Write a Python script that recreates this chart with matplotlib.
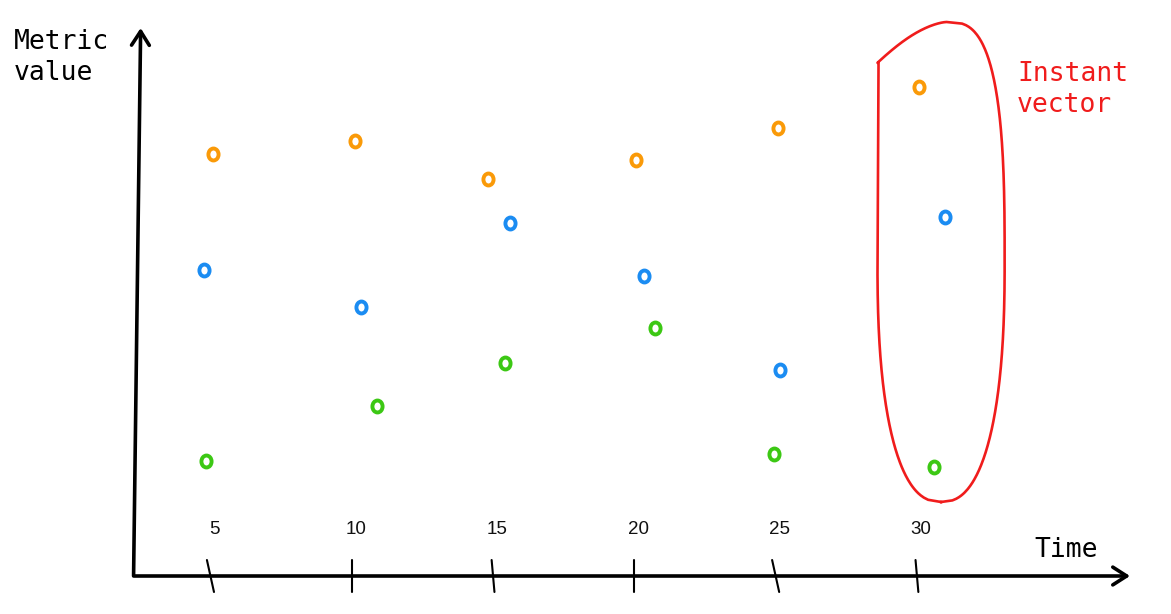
import numpy as np
import matplotlib
matplotlib.use("Agg")
import matplotlib.pyplot as plt
from matplotlib.path import Path
from matplotlib.transforms import Affine2D

# ---------------- data ----------------
tick_times = [5, 10, 15, 20, 25, 30]
tick_labels = ["5", "10", "15", "20", "25", "30"]

orange_t = [5.09, 10.11, 14.82, 20.06, 25.08, 30.07]
orange_v = [84.4, 87.0, 79.4, 83.2, 89.6, 97.8]
blue_t = [4.77, 10.33, 15.60, 20.34, 25.15, 30.99]
blue_v = [61.2, 53.8, 70.6, 60.0, 41.2, 71.8]
green_t = [4.84, 10.89, 15.42, 20.73, 24.94, 30.60]
green_v = [23.0, 34.0, 42.6, 49.6, 24.4, 21.8]

x_label = "Time"
y_label = "Metric\nvalue"
note_label = "Instant\nvector"

# ---------------- style ----------------
ORANGE = "#fa9a08"
BLUE = "#1b8cf2"
GREEN = "#3cc814"
RED = "#f01c1c"
tick_slant = [0.25, 0.0, 0.1, 0.0, 0.25, 0.1]  # hand-drawn tilt (time units)
mono = ["DejaVu Sans Mono"]

fig = plt.figure(figsize=(11.71, 6.14), dpi=100)
ax = fig.add_axes([0, 0, 1, 1])
ax.set_xlim(-2.447, 38.99)
ax.set_ylim(-7.6, 115.2)
ax.axis("off")

x0 = 2.33      # time at y axis position
x_end = 37.54  # end of time axis
y_top = 109.6  # end of value axis

# axes arrows
arrow_kw = dict(arrowstyle="->,head_length=0.5,head_width=0.32",
                lw=2.6, color="black", mutation_scale=20,
                shrinkA=0, shrinkB=0, capstyle="round")
ax.annotate("", xy=(x_end, 0), xytext=(x0, 0), arrowprops=arrow_kw)
ax.annotate("", xy=(x0 + 0.2, y_top), xytext=(x0 - 0.05, 0), arrowprops=arrow_kw)

# ticks and labels
for t, lab, s in zip(tick_times, tick_labels, tick_slant):
    ax.plot([t - s / 2, t + s / 2], [3.2, -3.2], color="black", lw=1.5,
            solid_capstyle="round")
    ax.text(t + 0.15, 9.3, lab, ha="center", va="center", fontsize=13.5,
            family=["Liberation Sans"], color="#111111")

# markers (slightly oval hollow circles)
oval = Path.unit_circle().transformed(Affine2D().scale(0.85, 1.0))
mk = dict(marker=oval, linestyle="none", markersize=8.6, markeredgewidth=2.8,
          markerfacecolor="none")
ax.plot(orange_t, orange_v, markeredgecolor=ORANGE, **mk)
ax.plot(blue_t, blue_v, markeredgecolor=BLUE, **mk)
ax.plot(green_t, green_v, markeredgecolor=GREEN, **mk)

# loop around the last instant (hand-drawn look)
last_t = [orange_t[-1], blue_t[-1], green_t[-1]]
last_v = [orange_v[-1], blue_v[-1], green_v[-1]]
cx = np.mean(last_t) + 0.3
cy = (max(last_v) + min(last_v)) / 2 + 3
a = 2.25
b = (max(last_v) - min(last_v)) / 2 + 10
px = cx + 0.1 * a           # peak of the top
corner = 0.83               # where the left side meets the slanted top


def se(y, n):
    return np.clip(1 - np.abs(y) ** n, 0, None) ** (1 / n)


# right side: bottom -> peak
yb = np.linspace(-1, 0, 150)
yt = np.linspace(0, 1, 150)
rx = np.concatenate([cx + a * se(yb, 2.4), px + (cx + a - px) * se(yt, 2.9)])
ry = np.concatenate([cy + b * yb, cy + b * yt])
# slanted top: peak -> top-left corner (slightly bowed)
s = np.linspace(0, 1, 80)
tx = px + (cx - a - px) * s
ty = cy + b - (1 - corner) * b * s ** 1.4 + 0.01 * b * np.sin(np.pi * s)
# left side: corner -> bottom
yl = np.linspace(corner, -1, 200)
half_l = np.where(yl > 0, a * (1 - 0.02 * yl), a * se(yl, 2.4))
lx_ = cx - half_l
ly_ = cy + b * yl
loop_x = np.concatenate([rx, tx, lx_, [rx[0]]])
loop_y = np.concatenate([ry, ty, ly_, [ry[0]]])
ax.plot(loop_x, loop_y, color=RED, lw=1.9, solid_joinstyle="round")

# texts
ax.text(14 / 1171, 1 - 29 / 614, y_label, transform=ax.transAxes,
        ha="left", va="top", fontsize=19, family=mono, linespacing=1.25)
ax.text(1034 / 1171, 1 - 550 / 614, x_label, transform=ax.transAxes,
        ha="left", va="center", fontsize=19, family=mono)
ax.text(1017 / 1171, 1 - 61 / 614, note_label, transform=ax.transAxes,
        ha="left", va="top", fontsize=19, family=mono, color=RED,
        linespacing=1.25)

fig.savefig("out.png", dpi=100)
